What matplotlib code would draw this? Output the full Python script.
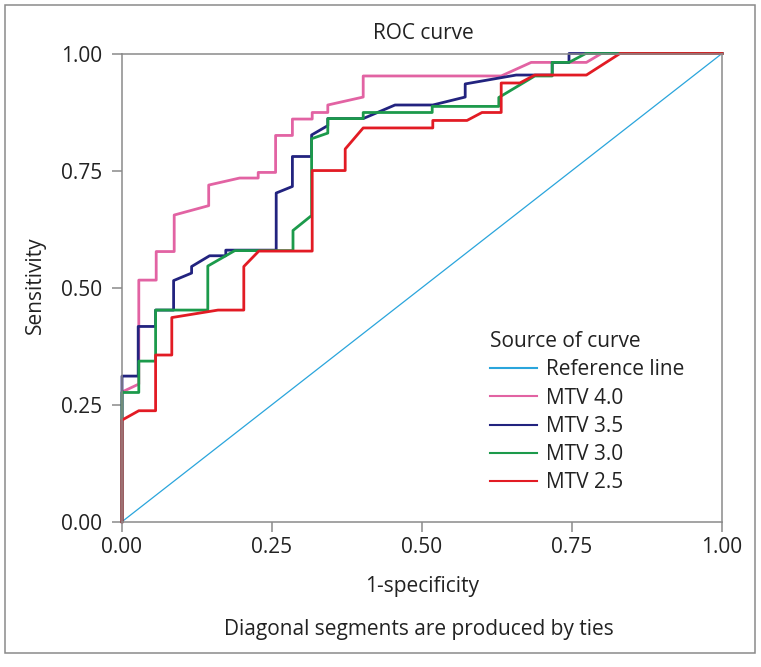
import matplotlib
matplotlib.use('Agg')
import matplotlib.pyplot as plt
from matplotlib.patches import Rectangle

# ROC curve vertices (1-specificity, sensitivity)
ref_x = [0, 1]
ref_y = [0, 1]

mtv40_x = [0, 0, 0.028, 0.028, 0.057, 0.057, 0.087, 0.087, 0.1445, 0.1445, 0.196, 0.227, 0.227,
           0.256, 0.256, 0.284, 0.284, 0.317, 0.317, 0.343, 0.343, 0.402, 0.402, 0.632, 0.682,
           0.774, 0.799, 1.0]
mtv40_y = [0, 0.277, 0.294, 0.516, 0.516, 0.577, 0.577, 0.655, 0.675, 0.719, 0.734, 0.734, 0.746,
           0.746, 0.825, 0.825, 0.86, 0.86, 0.874, 0.874, 0.89, 0.907, 0.952, 0.952, 0.981,
           0.981, 1.0, 1.0]

mtv35_x = [0, 0, 0.027, 0.027, 0.056, 0.056, 0.086, 0.086, 0.116, 0.116, 0.146, 0.173, 0.173,
           0.257, 0.257, 0.284, 0.284, 0.316, 0.316, 0.343, 0.343, 0.402, 0.455, 0.518, 0.572,
           0.572, 0.657, 0.717, 0.717, 0.745, 0.745, 1.0]
mtv35_y = [0, 0.311, 0.311, 0.417, 0.417, 0.452, 0.452, 0.515, 0.531, 0.545, 0.568, 0.568, 0.58,
           0.58, 0.702, 0.716, 0.78, 0.78, 0.826, 0.846, 0.861, 0.861, 0.89, 0.89, 0.907,
           0.935, 0.954, 0.954, 0.981, 0.981, 1.0, 1.0]

mtv30_x = [0, 0, 0.028, 0.028, 0.056, 0.056, 0.143, 0.143, 0.188, 0.285, 0.285, 0.316, 0.316,
           0.343, 0.343, 0.402, 0.402, 0.517, 0.517, 0.628, 0.628, 0.688, 0.717, 0.717, 0.745,
           0.773, 1.0]
mtv30_y = [0, 0.276, 0.276, 0.343, 0.343, 0.452, 0.452, 0.546, 0.579, 0.579, 0.622, 0.654, 0.818,
           0.83, 0.861, 0.861, 0.874, 0.874, 0.887, 0.887, 0.906, 0.952, 0.952, 0.981, 0.981,
           1.0, 1.0]

mtv25_x = [0, 0, 0.028, 0.056, 0.056, 0.083, 0.083, 0.16, 0.203, 0.203, 0.228, 0.317, 0.317,
           0.372, 0.372, 0.402, 0.518, 0.518, 0.575, 0.60, 0.632, 0.632, 0.663, 0.688, 0.774,
           0.83, 1.0]
mtv25_y = [0, 0.217, 0.237, 0.237, 0.356, 0.356, 0.436, 0.452, 0.452, 0.545, 0.578, 0.578, 0.75,
           0.75, 0.796, 0.841, 0.841, 0.857, 0.857, 0.874, 0.874, 0.937, 0.937, 0.954, 0.954,
           1.0, 1.0]

ticks = [0, 0.25, 0.5, 0.75, 1.0]
tick_labels = ['0.00', '0.25', '0.50', '0.75', '1.00']

W, H = 761, 667
plt.rcParams['font.family'] = ['Open Sans', 'DejaVu Sans']
fs = 15
grey = '#8a8a8a'
txt = '#222222'

fig = plt.figure(figsize=(W / 100, H / 100), dpi=100)
ax = fig.add_axes([122 / W, 1 - 521.7 / H, 600 / W, 468.2 / H])

ax.plot(ref_x, ref_y, color='#2aa5dc', lw=0.9, label='Reference line', clip_on=False)
ax.plot(mtv40_x, mtv40_y, color='#e263a3', lw=2.0, label='MTV 4.0', clip_on=False)
ax.plot(mtv35_x, mtv35_y, color='#22237f', lw=2.0, label='MTV 3.5', clip_on=False)
ax.plot(mtv30_x, mtv30_y, color='#1c9a4b', lw=2.0, label='MTV 3.0', clip_on=False)
ax.plot(mtv25_x, mtv25_y, color='#e21b24', lw=2.0, label='MTV 2.5', clip_on=False)

ax.set_xlim(0, 1)
ax.set_ylim(0, 1)
ax.set_xticks(ticks)
ax.set_xticklabels(tick_labels)
ax.set_yticks(ticks)
ax.set_yticklabels(tick_labels)
ax.tick_params(axis='both', length=7.5, width=1.1, color=grey, labelsize=fs, labelcolor=txt)
ax.tick_params(axis='x', pad=3.8)
ax.tick_params(axis='y', pad=7)
for s in ax.spines.values():
    s.set_color(grey)
    s.set_linewidth(1.1)

def px(x, y):
    return x / W, 1 - y / H

fig.text(*px(423, 39.3), 'ROC curve', ha='center', va='baseline', fontsize=fs, color=txt)
fig.text(*px(422.5, 592), '1-specificity', ha='center', va='baseline', fontsize=fs, color=txt)
fig.text(*px(419, 635), 'Diagonal segments are produced by ties', ha='center', va='baseline',
         fontsize=fs, color=txt)
fig.text(*px(35, 285), 'Sensitivity', ha='center', va='center', rotation=90, fontsize=fs, color=txt)

leg = ax.legend(loc='upper left', bbox_to_anchor=px(490, 331), bbox_transform=fig.transFigure,
                frameon=False, title='Source of curve', alignment='left', fontsize=fs,
                title_fontsize=fs, borderpad=0, borderaxespad=0, handlelength=2.24,
                handletextpad=0.45, labelspacing=0.35)
for t in leg.get_texts():
    t.set_color(txt)
leg.get_title().set_color(txt)
for h in leg.get_lines():
    h.set_linewidth(1.5)

fig.patches.append(Rectangle(px(4.5, 653.3), 750.5 / W, 648.6 / H, transform=fig.transFigure,
                             fill=False, edgecolor=grey, lw=1.1))

fig.savefig('out.png', dpi=100)
